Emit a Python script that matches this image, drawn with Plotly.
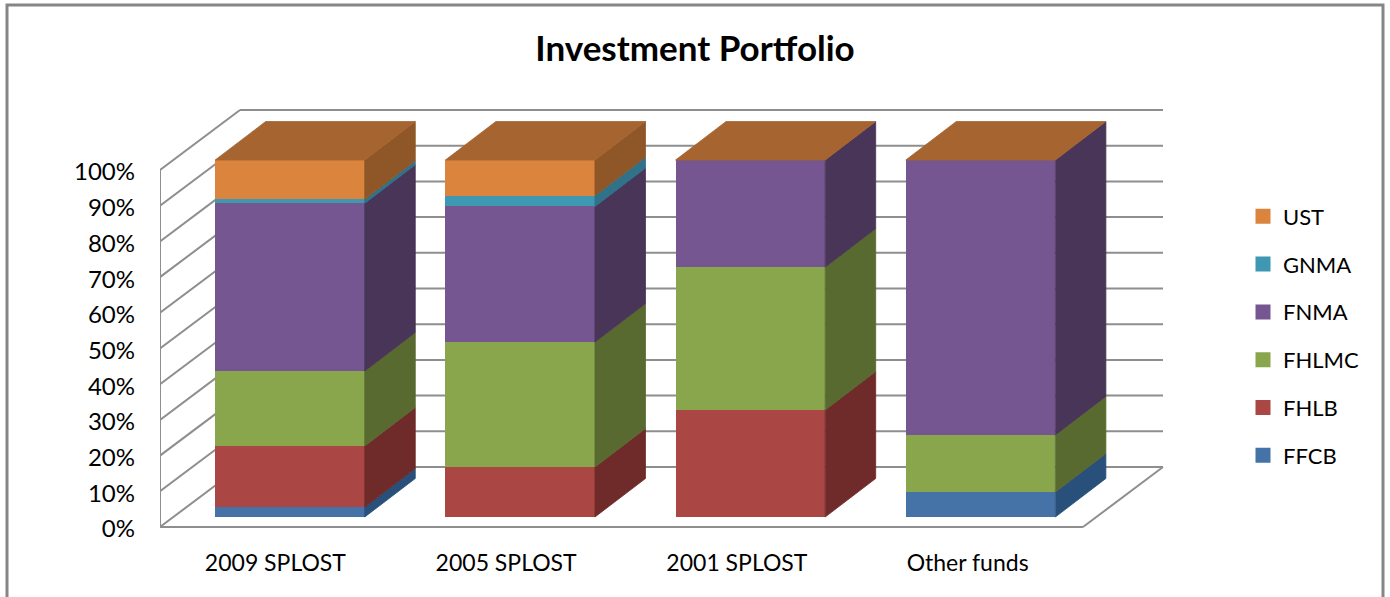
import plotly.graph_objects as go

categories = ["2009 SPLOST", "2005 SPLOST", "2001 SPLOST", "Other funds"]
FFCB = [2.8, 0, 0, 7]
FHLB = [17.1, 14, 30, 0]
FHLMC = [21, 35, 40, 16]
FNMA = [47, 38, 30, 77]
GNMA = [1.1, 3, 0, 0]
UST = [11, 10, 0, 0]

series_names = ["FFCB", "FHLB", "FHLMC", "FNMA", "GNMA", "UST"]
series_values = [FFCB, FHLB, FHLMC, FNMA, GNMA, UST]
front_colors = ["#4572A7", "#AA4643", "#8AA64D", "#755690", "#3F98B2", "#DB843D"]
side_colors = ["#28507A", "#6F2B29", "#586A30", "#483558", "#2F7289", "#8F5727"]
top_color = "#A66530"
grid_color = "#8E8E8E"
y_ticks = list(range(0, 101, 10))

W, H = 1390, 597
L, R, T = 160, 1165, 105
ZERO_PX = 527      # pixel row of the 0% floor line
B = 533            # bottom of the plot area, a little under the floor so the 0% label is kept
px_per_cat = 230.75
px_per_unit = 3.57


def ux(px):
    return px / px_per_cat


def uy(px):
    return px / px_per_unit


def paper_x(px):
    return (px - L) / (R - L)


def paper_y(px):
    return (B - px) / (B - T)


x0 = -0.5
x_end = len(categories) - 0.5
wall_dx, wall_dy = ux(80), uy(60)
bar_dx, bar_dy = ux(14.6), uy(10)
bar_step = ux(230.2)
depth_dx, depth_dy = ux(50.5), uy(38.5)
bar_w = ux(149.6)
label_nudge = uy(2)

fig = go.Figure()

# Front faces
bases = [0.0] * len(categories)
bar_x = [i * bar_step + bar_dx for i in range(len(categories))]
all_bases = []
for name, vals, col in zip(series_names, series_values, front_colors):
    start = [b + bar_dy for b in bases]
    all_bases.append(list(bases))
    fig.add_trace(go.Bar(x=bar_x, y=vals, base=start, width=bar_w, name=name,
                         marker=dict(color=col, line=dict(width=0)), showlegend=False))
    bases = [b + v for b, v in zip(bases, vals)]

# Side faces
for vals, low, col in zip(series_values, all_bases, side_colors):
    xs, ys = [], []
    for i, (v, b) in enumerate(zip(vals, low)):
        if v <= 0:
            continue
        xr = bar_x[i] + bar_w / 2
        y1 = b + bar_dy
        y2 = y1 + v
        xs += [xr, xr + depth_dx, xr + depth_dx, xr, xr, None]
        ys += [y1, y1 + depth_dy, y2 + depth_dy, y2, y1, None]
    fig.add_trace(go.Scatter(x=xs, y=ys, fill="toself", fillcolor=col, mode="lines",
                             line=dict(color=col, width=0.8),
                             showlegend=False, hoverinfo="skip"))

# Top faces
xs, ys = [], []
for i, total in enumerate(bases):
    xl = bar_x[i] - bar_w / 2
    xr = bar_x[i] + bar_w / 2
    yt = total + bar_dy
    xs += [xl, xr, xr + depth_dx, xl + depth_dx, xl, None]
    ys += [yt, yt, yt + depth_dy, yt + depth_dy, yt, None]
fig.add_trace(go.Scatter(x=xs, y=ys, fill="toself", fillcolor=top_color, mode="lines",
                         line=dict(color=top_color, width=0.8),
                         showlegend=False, hoverinfo="skip"))

# Legend entries, top to bottom
for name, col in reversed(list(zip(series_names, front_colors))):
    fig.add_trace(go.Scatter(x=[None], y=[None], mode="markers", name=name, legendgroup=name,
                             marker=dict(symbol="square", size=15, color=col)))

# Walls and floor
shapes = []


def seg(xa, ya, xb, yb):
    shapes.append(dict(type="line", xref="x", yref="y", x0=xa, y0=ya, x1=xb, y1=yb, layer="below",
                       line=dict(color=grid_color, width=2)))


for v in y_ticks:
    seg(x0, v, x0 + wall_dx, v + wall_dy)
    seg(x0 + wall_dx, v + wall_dy, x_end + wall_dx, v + wall_dy)
seg(x0, 0, x0, y_ticks[-1])
seg(x0, 0, x_end, 0)
seg(x_end, 0, x_end + wall_dx, wall_dy)

# Outer chart border
shapes.append(dict(type="path", xref="paper", yref="paper", layer="below",
                   path=(f"M {paper_x(7)} {paper_y(610)} L {paper_x(7)} {paper_y(5)} "
                         f"L {paper_x(1383)} {paper_y(5)} L {paper_x(1383)} {paper_y(610)}"),
                   line=dict(color="#868686", width=3)))

fig.update_layout(
    width=W, height=H, autosize=False,
    margin=dict(l=L, r=W - R, t=T, b=H - B, pad=0),
    paper_bgcolor="white", plot_bgcolor="rgba(0,0,0,0)",
    barmode="overlay", bargap=0,
    font=dict(family="Lato, Open Sans, sans-serif", color="#000000", size=23),
    title=dict(text="<b>Investment Portfolio</b>", x=0.5, xref="container", xanchor="center",
               y=1 - 49 / H, yanchor="middle", font=dict(size=35), pad=dict(t=0)),
    xaxis=dict(range=[x0, x0 + ux(R - L)], tickmode="array", tickvals=list(range(len(categories))),
               ticktext=categories, showgrid=False, zeroline=False, showline=False,
               ticks="", ticklabelstandoff=14, tickfont=dict(size=23)),
    yaxis=dict(range=[-uy(B - ZERO_PX), uy(ZERO_PX - T)], tickmode="array",
               tickvals=[v - label_nudge for v in y_ticks],
               ticktext=[f"{v}%" for v in y_ticks], showgrid=False, zeroline=False, showline=False,
               ticks="", ticklabelstandoff=24, tickfont=dict(size=24)),
    legend=dict(x=paper_x(1243), traceorder="grouped", tracegroupgap=16.2, font=dict(size=22),
                yanchor="top", xanchor="left", bgcolor="rgba(0,0,0,0)", borderwidth=0,
                y=paper_y(195.5)),
    shapes=shapes,
)

fig.write_html("out.html", config=dict(displayModeBar=False),
               post_script="document.body.style.margin='0';document.body.style.overflow='hidden';")
